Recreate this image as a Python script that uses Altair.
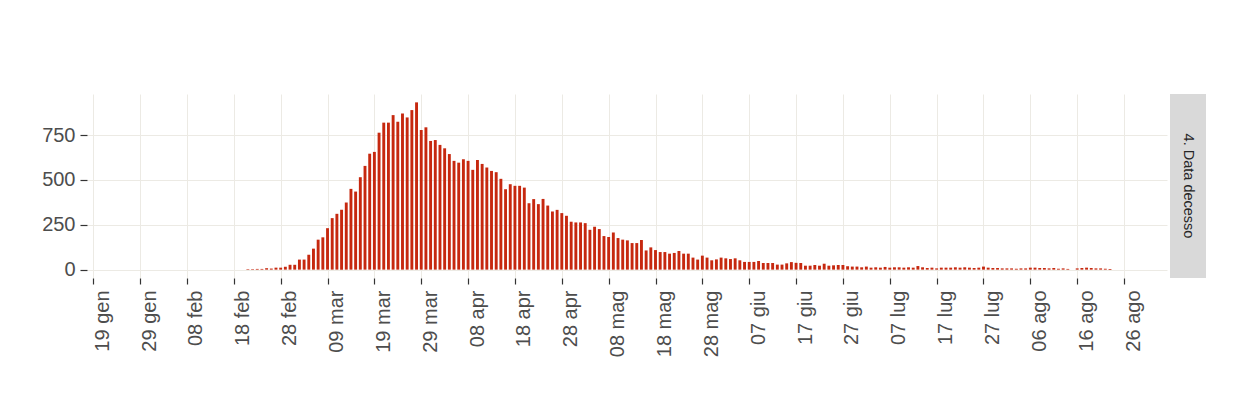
import altair as alt
import pandas as pd

# Daily deaths by date of death
feb_start = "2020-02-21"
feb_deaths = [3, 3, 4, 4, 8, 6, 11, 11, 16]
mar_start = "2020-03-01"
mar_deaths = [27, 27, 56, 56, 83, 117, 167, 180, 231, 287, 311, 333, 374, 450, 435,
              515, 578, 646, 656, 763, 819, 819, 861, 824, 870, 848, 889, 932, 778, 793, 717]
apr_start = "2020-04-01"
apr_deaths = [722, 695, 676, 644, 606, 596, 615, 606, 556, 611, 589, 569, 550, 543, 506,
              448, 476, 467, 467, 457, 370, 393, 365, 394, 357, 324, 333, 315, 300, 267]
may_start = "2020-05-01"
may_deaths = [263, 263, 259, 222, 239, 226, 187, 182, 207, 176, 167, 163, 148, 148, 165,
              107, 124, 109, 98, 98, 89, 93, 104, 89, 89, 67, 56, 78, 67, 52, 57]
jun_start = "2020-06-01"
jun_deaths = [67, 63, 59, 63, 52, 43, 43, 43, 48, 37, 37, 37, 28, 28, 35,
              42, 38, 37, 22, 22, 26, 22, 33, 22, 24, 26, 26, 19, 17, 17]
jul_start = "2020-07-01"
jul_deaths = [13, 17, 11, 13, 11, 15, 11, 13, 13, 11, 13, 11, 20, 13, 9, 11,
              7, 11, 11, 11, 13, 11, 13, 11, 9, 11, 17, 11, 9, 9, 7]
aug_start = "2020-08-01"
aug_deaths = [7, 7, 5, 7, 7, 11, 11, 9, 9, 7, 9, 5, 7, 4, 0, 7, 9, 11, 9, 7, 7, 5, 4]

tick_dates = ["2020-01-19", "2020-01-29", "2020-02-08", "2020-02-18", "2020-02-28",
              "2020-03-09", "2020-03-19", "2020-03-29", "2020-04-08", "2020-04-18",
              "2020-04-28", "2020-05-08", "2020-05-18", "2020-05-28", "2020-06-07",
              "2020-06-17", "2020-06-27", "2020-07-07", "2020-07-17", "2020-07-27",
              "2020-08-06", "2020-08-16", "2020-08-26"]
month_names = ["gen", "feb", "mar", "apr", "mag", "giu", "lug", "ago", "set", "ott", "nov", "dic"]
y_ticks = [0, 250, 500, 750]
strip_label = "4. Data decesso"

segments = [(feb_start, feb_deaths), (mar_start, mar_deaths), (apr_start, apr_deaths),
            (may_start, may_deaths), (jun_start, jun_deaths), (jul_start, jul_deaths),
            (aug_start, aug_deaths)]
rows = []
for start, vals in segments:
    d0 = pd.Timestamp(start)
    for i, v in enumerate(vals):
        d = d0 + pd.Timedelta(days=i)
        rows.append({"data": d.strftime("%Y-%m-%dT00:00:00"), "decessi": v, "base": 0})
df = pd.DataFrame(rows)


def dt(s, hours=0):
    t = pd.Timestamp(s)
    return alt.DateTime(year=t.year, month=t.month, date=t.day, hours=hours)


tick_values = [dt(s) for s in tick_dates]
month_js = "[" + ",".join("'%s'" % m for m in month_names) + "]"

W, H = 1080, 184
FONT = "Liberation Sans"

bars = alt.Chart(df).mark_bar(color="#c6280f", size=2.9).encode(
    x=alt.X(
        "data:T",
        title=None,
        scale=alt.Scale(domain=[dt("2020-01-17", 16), dt("2020-09-04", 4)], padding=0),
        axis=alt.Axis(
            values=tick_values,
            labelExpr="timeFormat(datum.value, '%d') + ' ' + " + month_js + "[month(datum.value)]",
            labelAngle=270,
            labelPadding=6,
            labelOffset=9,
            tickSize=6,
            labelFlush=False,
            labelOverlap=False,
            grid=True,
        ),
    ),
    y=alt.Y(
        "decessi:Q",
        title=None,
        scale=alt.Scale(domain=[-46.6, 978.6], nice=False, zero=False),
        axis=alt.Axis(values=y_ticks, tickSize=7, labelPadding=5, grid=True),
    ),
    y2="base:Q",
)

strip_df = pd.DataFrame({"lab": [strip_label]})
strip_rect = alt.Chart(strip_df).mark_rect(color="#d9d9d9").encode(
    x=alt.value(W + 3), x2=alt.value(W + 39), y=alt.value(0), y2=alt.value(H)
)
strip_text = alt.Chart(strip_df).mark_text(
    angle=90, fontSize=14.5, color="#262626", font=FONT, align="center", baseline="middle"
).encode(x=alt.value(W + 21), y=alt.value(H / 2), text="lab:N")

chart = alt.layer(bars, strip_rect, strip_text).properties(
    width=W,
    height=H,
    autosize=alt.AutoSizeParams(type="none"),
    padding={"left": 79, "top": 86, "right": 50, "bottom": 90},
).configure_view(stroke=None).configure_axis(
    domain=False,
    labelFont=FONT,
    labelFontSize=20,
    labelColor="#4d4d4d",
    tickColor="#333333",
    tickWidth=1.2,
    gridColor="#eceae4",
    gridWidth=1,
)

chart.save("out.html", embed_options={"renderer": "svg", "actions": False})
